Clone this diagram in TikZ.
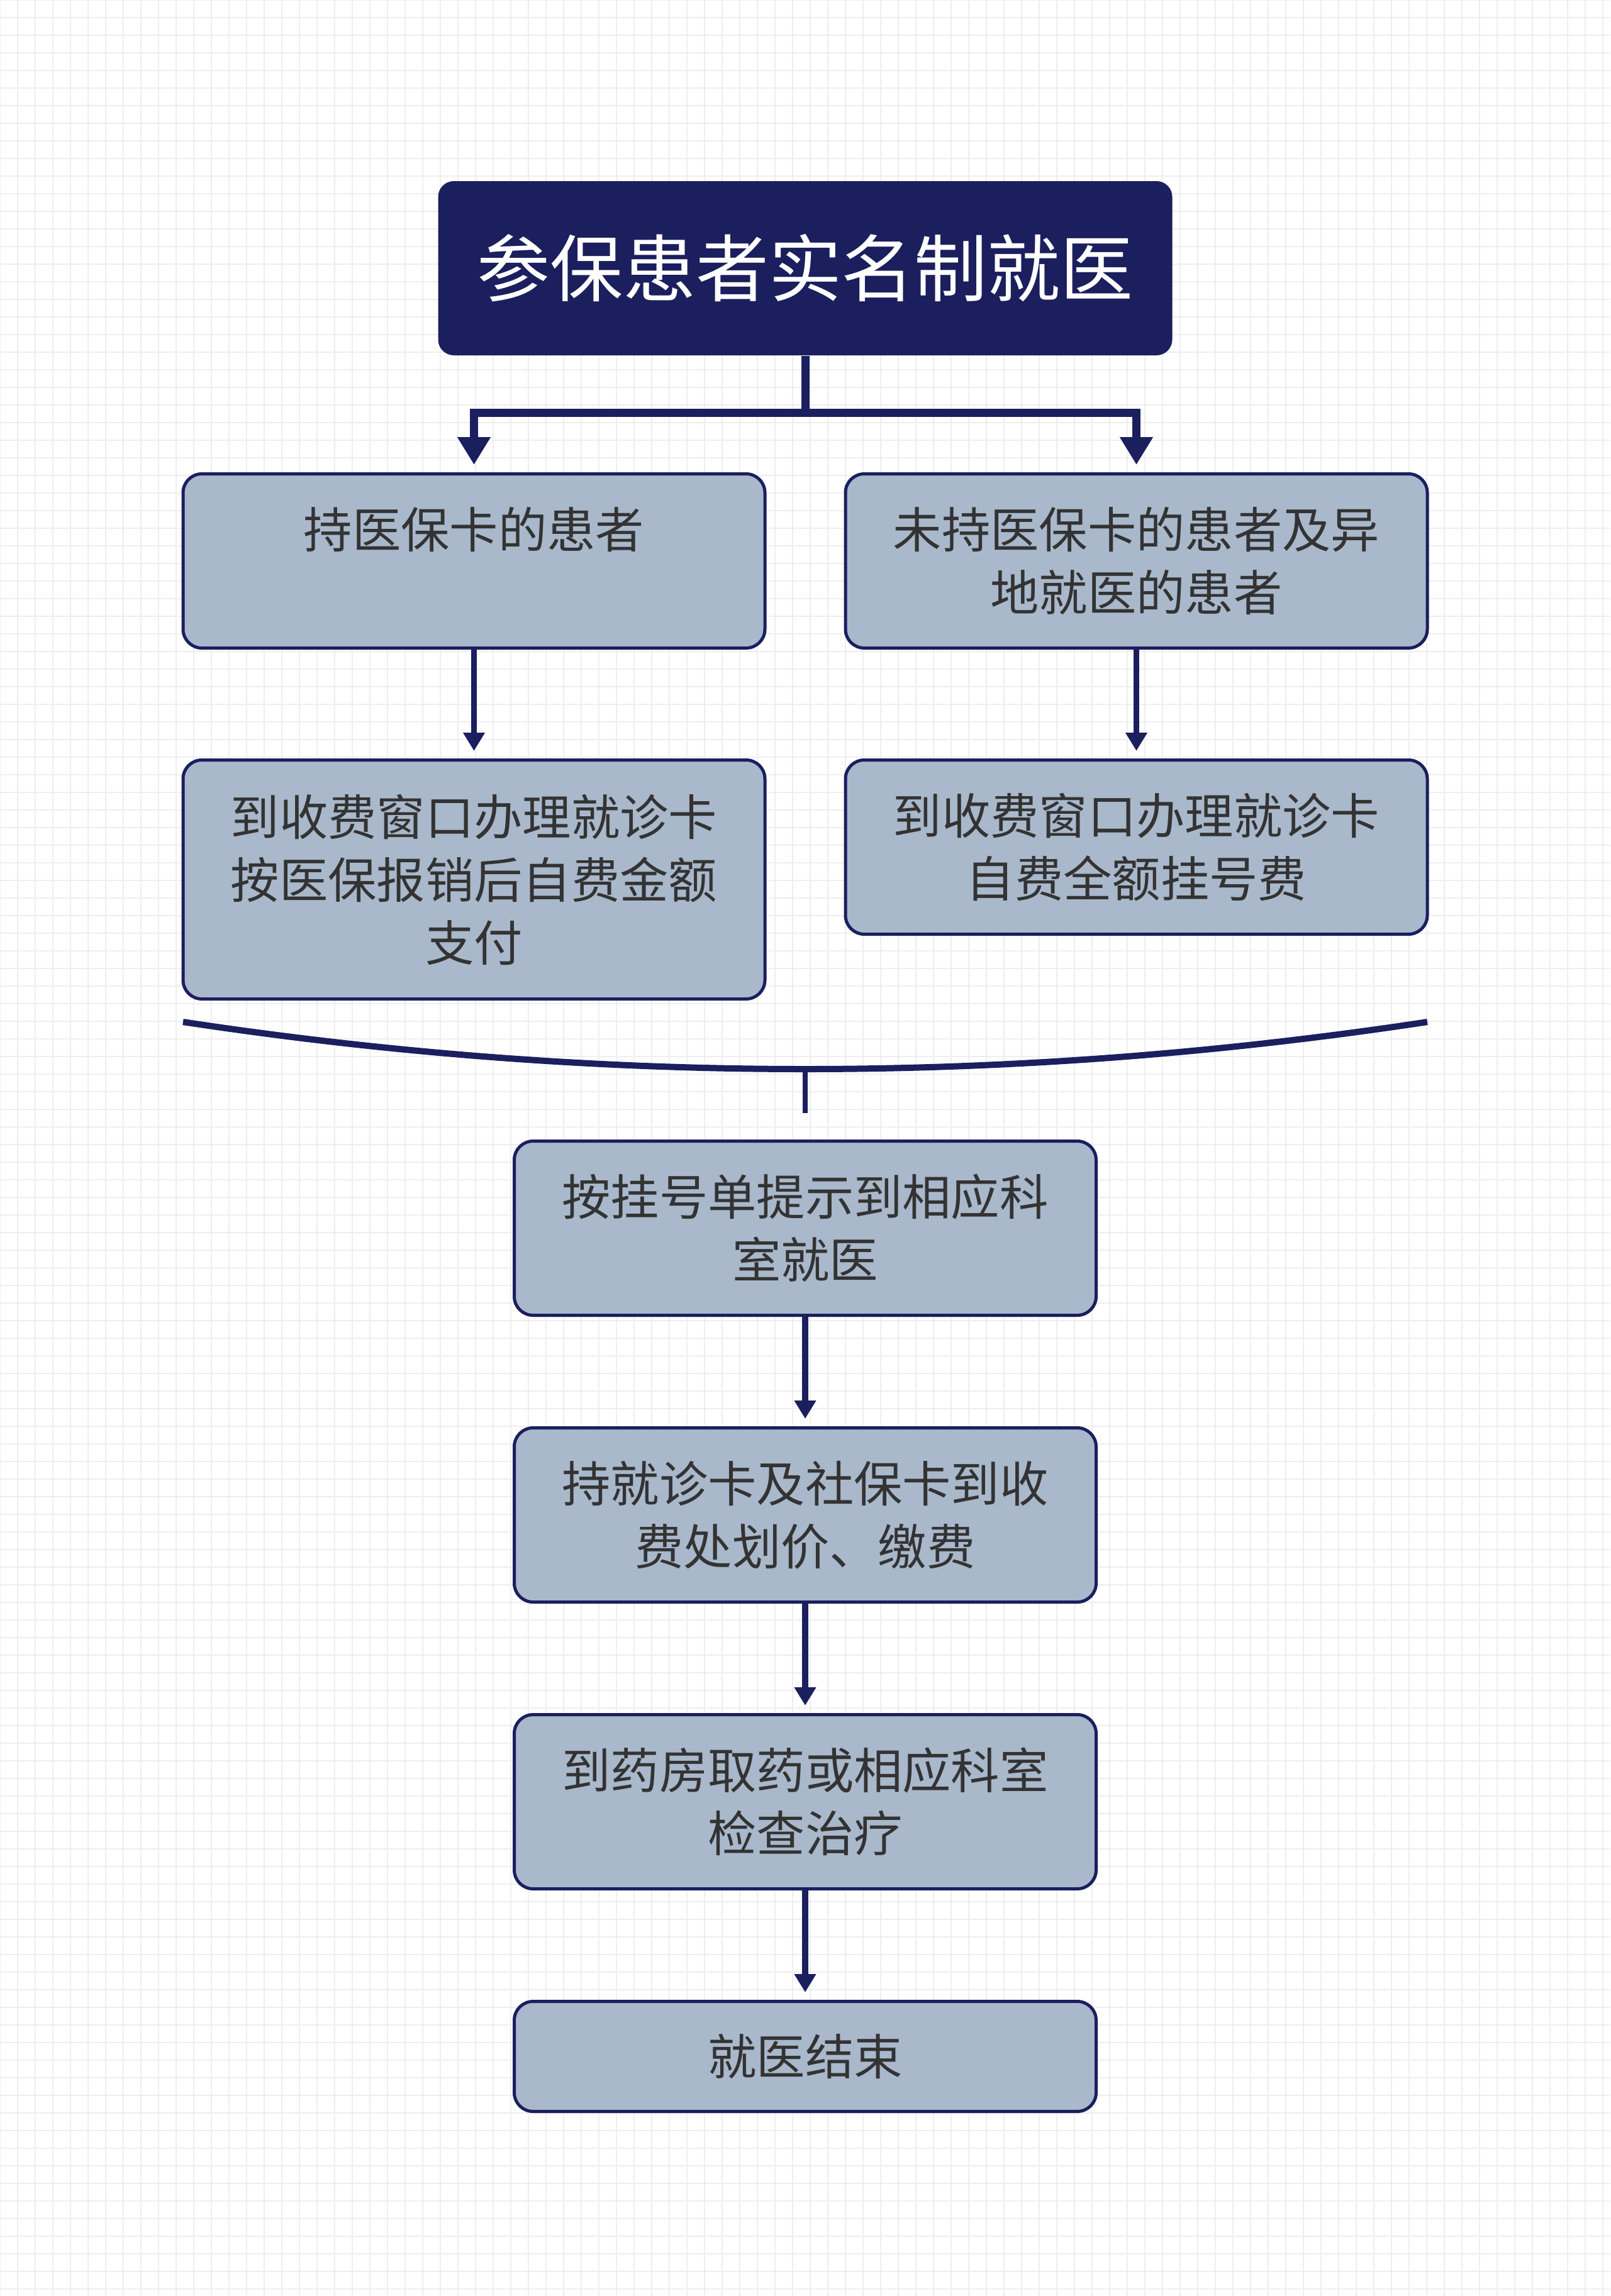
\documentclass[tikz,border=0pt]{standalone}
\usepackage{fontspec}
\setmainfont{Noto Sans CJK SC}
\usepackage{tikz}
\usetikzlibrary{positioning, arrows.meta, calc}
\definecolor{navy}{RGB}{27,31,94}
\definecolor{boxblue}{RGB}{169,184,203}
\definecolor{textgray}{RGB}{51,51,51}
\definecolor{gridgray}{RGB}{238,238,240}
\tikzset{
	titlebox/.style={rectangle, rounded corners=0.25cm, fill=navy, minimum width=11.67cm, minimum height=2.77cm, font=\fontsize{33pt}{40pt}\selectfont\color{white}}
}
\tikzset{
	flowbox/.style={rectangle, rounded corners=0.3cm, draw=navy, line width=0.05cm, fill=boxblue, minimum width=9.25cm, minimum height=2.77cm, align=center, font=\fontsize{22pt}{28.45pt}\selectfont\color{textgray}}
}
\tikzset{
	trunkline/.style={draw=navy, line width=0.13cm}
}
\tikzset{
	trunkarrow/.style={trunkline, -{Triangle[width=0.5cm,length=0.44cm]}, shorten >=0.12cm}
}
\tikzset{
	flowarrow/.style={draw=navy, line width=0.093cm, -{Triangle[width=0.33cm,length=0.29cm]}, shorten >=0.12cm}
}

\begin{document}
\begin{tikzpicture}
  \useasboundingbox (0,0) rectangle (25.6,-36.51);
  \fill[white] (0,0) rectangle (25.6,-36.51);
  \draw[gridgray, line width=0.02cm, step=0.28cm] (0,-36.51) grid (25.6,0);
  % top
  \node[titlebox] (title) at (12.8,-4.265) {参保患者实名制就医};
  \node[flowbox] (held) at (7.535,-8.92) {持医保卡的患者\\\phantom{患者}};
  \node[flowbox] (unheld) at (18.065,-8.92) {未持医保卡的患者及异\\地就医的患者};
  \coordinate (fork) at ([yshift=-0.91cm]title.south);
  \draw[trunkline] (title.south) -- (fork);
  \draw[trunkarrow] (fork) -| (held);
  \draw[trunkarrow] (fork) -| (unheld);
  % two ways of paying
  \node[flowbox, minimum height=3.8cm, below=1.73cm of held] (heldpay) {到收费窗口办理就诊卡\\按医保报销后自费金额\\支付};
  \node[flowbox, below=1.73cm of unheld] (unheldpay) {到收费窗口办理就诊卡\\自费全额挂号费};
  \draw[flowarrow] (held) -- (heldpay);
  \draw[flowarrow] (unheld) -- (unheldpay);
  % merge
  \coordinate (arcleft) at (2.91,-16.25);
  \coordinate (arcright) at (22.69,-16.25);
  \coordinate (arcbottom) at (12.8,-17.0);
  \coordinate (arcstub) at (12.8,-17.7);
  \draw[navy, line width=0.1cm] (arcleft) .. controls (9.5,-17.25) and (16.1,-17.25) .. (arcright);
  \draw[navy, line width=0.08cm] (arcbottom) -- (arcstub);
  % common steps
  \node[flowbox] (guide) at (12.8,-19.53) {按挂号单提示到相应科\\室就医};
  \node[flowbox, below=1.74cm of guide] (charge) {持就诊卡及社保卡到收\\费处划价、缴费};
  \node[flowbox, below=1.74cm of charge] (treat) {到药房取药或相应科室\\检查治疗};
  \node[flowbox, minimum height=1.75cm, below=1.74cm of treat] (finish) {就医结束};
  \draw[flowarrow] (guide) -- (charge);
  \draw[flowarrow] (charge) -- (treat);
  \draw[flowarrow] (treat) -- (finish);
\end{tikzpicture}
\end{document}
